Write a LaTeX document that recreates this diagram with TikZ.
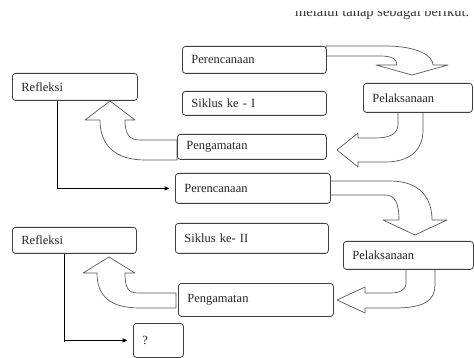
\documentclass[tikz,border=0pt]{standalone}
\usepackage{fontspec}
\setmainfont{Liberation Serif}
\usetikzlibrary{arrows}

\begin{document}
\begin{tikzpicture}[x=1pt,y=-1pt,>=stealth',shorten >=6pt]
        \tikzstyle{stage}=[draw=black!75,line width=0.8pt,fill=white,rounded corners=3pt,
                anchor=north west,inner xsep=9pt,inner ysep=0pt,align=left,
                font=\fontsize{12.5}{14}\selectfont,text=black!85]
        \tikzstyle{bigarrow}=[draw=black!65,line width=0.7pt,fill=white,line join=round]
        \useasboundingbox (0,0) rectangle (474,358);
        % text cut at the top of the page
        \begin{scope}
                \clip (280,12) rectangle (474,30);
                \node[anchor=base west,inner sep=0pt,font=\fontsize{14.5}{16}\selectfont,text=black!80] (head) at (295,17) {melalui tahap sebagai berikut.};
        \end{scope}
        % block arrows
        \path[bigarrow] (326,46) -- (385,46) .. controls (418,46) and (433,56) .. (433,65) -- (448,65) -- (412,75)
                -- (376,65) -- (397,65) .. controls (397,59) and (392,56) .. (380,56) -- (326,56) -- cycle;
        \path[bigarrow] (398,112) -- (398,124) .. controls (398,134) and (390,138) .. (375,138) -- (358,138) -- (358,133)
                -- (337,150) -- (358,167) -- (358,162) -- (385,162) .. controls (410,162) and (423,150) .. (423,130) -- (423,112) -- cycle;
        \path[bigarrow] (177,140) -- (140,140) .. controls (130,140) and (125,135) .. (125,120) -- (135,120) -- (110,101)
                -- (85,120) -- (100,120) .. controls (100,145) and (115,160) .. (145,160) -- (177,160) -- cycle;
        \path[bigarrow] (330,181) -- (390,181) .. controls (420,181) and (432,198) .. (432,220) -- (447,220) -- (415,235)
                -- (383,220) -- (399,220) .. controls (399,203) and (395,195) .. (385,195) -- (330,195) -- cycle;
        \path[bigarrow] (406,269) -- (406,283) .. controls (406,290) and (400,293) .. (390,293) -- (365,293) -- (365,287)
                -- (337,300) -- (365,313) -- (365,308) -- (395,308) .. controls (425,308) and (435,300) .. (435,285) -- (435,269) -- cycle;
        \path[bigarrow] (176,293) -- (138,293) .. controls (128,293) and (125,288) .. (125,273) -- (135,273) -- (109,257)
                -- (83,273) -- (97,273) .. controls (97,296) and (110,308) .. (140,308) -- (176,308) -- cycle;
        % first cycle
        \node[stage,text width=126pt,minimum height=27pt] (plan1) at (182,46)  {Perencanaan};
        \node[stage,text width=126pt,minimum height=24pt] (cyc1)  at (182,91)  {Siklus ke - I};
        \node[stage,text width=131pt,minimum height=25pt] (obs1)  at (177,134) {Pengamatan};
        \node[stage,text width=91pt,minimum height=29pt]  (act1)  at (363,83)  {Pelaksanaan};
        \node[stage,text width=107pt,minimum height=27pt] (ref1)  at (12,73)   {Refleksi};
        % second cycle
        \node[stage,text width=137pt,minimum height=30pt] (plan2) at (175,173) {Perencanaan};
        \node[stage,text width=135pt,minimum height=30pt] (cyc2)  at (175,223) {Siklus ke- II};
        \node[stage,text width=112pt,minimum height=28pt] (act2)  at (343,241) {Pelaksanaan};
        \node[stage,text width=137pt,minimum height=33pt] (obs2)  at (178,283) {Pengamatan};
        \node[stage,text width=106pt,minimum height=26pt] (ref2)  at (12,227)  {Refleksi};
        \node[stage,text width=32pt,minimum height=34pt]  (next)  at (133,323) {?};
        % connectors
        \draw[->,line width=0.7pt] ([xshift=45pt]ref1.south west) |- (plan2.west);
        \draw[line width=0.7pt] ([xshift=52pt]ref2.south west) -- ++(0,94);
        \draw[->,line width=0.7pt] ([xshift=52pt]ref2.south west |- next.west) -- (next.west);
\end{tikzpicture}
\end{document}
